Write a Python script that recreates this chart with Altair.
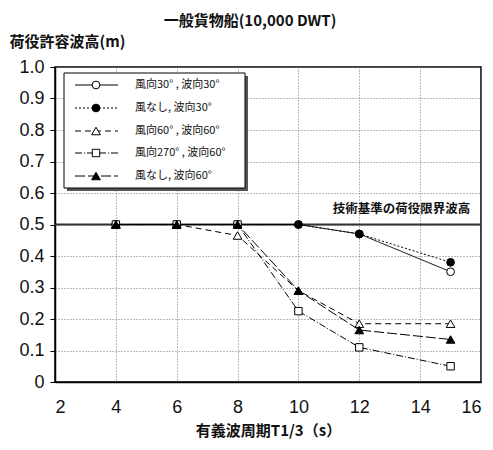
import altair as alt
import pandas as pd

# ---- data ----
periods = [4, 6, 8, 10, 12, 15]
series_names = [
    "風向30° , 波向30°",
    "風なし, 波向30°",
    "風向60° , 波向60°",
    "風向270° , 波向60°",
    "風なし, 波向60°",
]
s1 = [0.50, 0.50, 0.50, 0.50, 0.47, 0.35]
s2 = [0.50, 0.50, 0.50, 0.50, 0.47, 0.38]
s3 = [0.50, 0.50, 0.465, 0.29, 0.185, 0.185]
s4 = [0.50, 0.50, 0.50, 0.225, 0.11, 0.05]
s5 = [0.50, 0.50, 0.50, 0.29, 0.165, 0.135]
series_values = [s1, s2, s3, s4, s5]
limit_value = 0.5
limit_label = "技術基準の荷役限界波高"
x_ticks = [2, 4, 6, 8, 10, 12, 14, 16]
y_ticks = [0, 0.1, 0.2, 0.3, 0.4, 0.5, 0.6, 0.7, 0.8, 0.9, 1.0]

# styles
dashes = [[1, 0], [2, 2], [6, 4], [7, 2, 1, 2], [10, 3]]
shapes = ["circle", "circle", "triangle-up", "square", "triangle-up"]
filled = [False, True, False, False, True]
sizes = [60, 60, 75, 55, 75]

W, H = 426, 315
xs = alt.Scale(domain=[2, 16], nice=False, zero=False)
ys = alt.Scale(domain=[0, 1], nice=False)

xaxis = alt.Axis(values=x_ticks, title="有義波周期T1/3（s）", grid=True, tickSize=0,
                 labelPadding=16, titlePadding=7, format="d", labelOverlap=False)
yaxis = alt.Axis(values=y_ticks, title="荷役許容波高(m)", grid=True, tickSize=5,
                 labelPadding=6, labelExpr="datum.value == 0 ? '0' : format(datum.value, '.1f')",
                 labelOverlap=False,
                 titleAngle=0, titleAlign="left", titleBaseline="middle", titleX=-46, titleY=-26)

def X(f="x"):
    return alt.X(f"{f}:Q", scale=xs, axis=xaxis)

def Y(f="y"):
    return alt.Y(f"{f}:Q", scale=ys, axis=yaxis)

layers = []
# limit line
lim_df = pd.DataFrame({"x": [2], "x2": [16], "y": [limit_value]})
layers.append(alt.Chart(lim_df).mark_rule(color="#333", strokeWidth=2).encode(
    x=X(), x2="x2:Q", y=Y()))
ann_df = pd.DataFrame({"x": [15.65], "y": [0.549], "t": [limit_label]})
layers.append(alt.Chart(ann_df).mark_text(align="right", baseline="middle", fontSize=12.5,
                                          fontWeight="bold", font="Noto Sans CJK JP", color="#111").encode(
    x=X(), y=Y(), text="t:N"))

for i, (name, vals) in enumerate(zip(series_names, series_values)):
    df = pd.DataFrame({"x": periods, "y": vals})
    base = alt.Chart(df).encode(x=X(), y=Y())
    layers.append(base.mark_line(color="black", strokeWidth=1, strokeDash=dashes[i]))
    layers.append(base.mark_point(shape=shapes[i], filled=filled[i], fill="black" if filled[i] else "white",
                                  stroke="black", strokeWidth=1, size=sizes[i], opacity=1))

# custom legend
box = pd.DataFrame({"a": [0]})
layers.append(alt.Chart(box).mark_rect(fill="#555").encode(
    x=alt.value(12), x2=alt.value(193), y=alt.value(9), y2=alt.value(124)))
layers.append(alt.Chart(box).mark_rect(fill="white", stroke="black", strokeWidth=1).encode(
    x=alt.value(9), x2=alt.value(190), y=alt.value(6), y2=alt.value(121)))
row_y = [18, 41, 64, 86, 109]
for i, name in enumerate(series_names):
    d = pd.DataFrame({"name": [name]})
    c = alt.Chart(d)
    layers.append(c.mark_rule(color="black", strokeWidth=1, strokeDash=dashes[i]).encode(
        x=alt.value(20), x2=alt.value(63), y=alt.value(row_y[i])))
    layers.append(c.mark_point(shape=shapes[i], filled=filled[i], fill="black" if filled[i] else "white",
                               stroke="black", strokeWidth=1, size=sizes[i], opacity=1).encode(
        x=alt.value(41), y=alt.value(row_y[i])))
    layers.append(c.mark_text(align="left", baseline="middle", fontSize=11,
                              font="Noto Sans CJK JP", color="#111").encode(
        x=alt.value(80), y=alt.value(row_y[i]), text="name:N"))

chart = alt.layer(*layers).properties(
    width=W, height=H,
    background="white",
    title=alt.Title("一般貨物船(10,000 DWT)", fontSize=15, fontWeight="bold",
                    font="Noto Sans CJK JP", anchor="middle", offset=5, dx=-18, color="#111"),
    autosize=alt.AutoSizeParams(type="none"),
    padding={"left": 47, "top": 59, "right": 4, "bottom": 60},
).configure_view(stroke="black", strokeWidth=1.5).configure_axis(
    labelFont="Liberation Sans", labelFontSize=18, labelColor="#111",
    titleFont="Noto Sans CJK JP", titleFontSize=15, titleFontWeight="bold", titleColor="#111",
    gridColor="#777", gridDash=[1, 2], gridWidth=1,
    domainColor="black", domainWidth=1.5, tickColor="black",
)

chart.save("out.html", embed_options={"renderer": "svg", "actions": False})
